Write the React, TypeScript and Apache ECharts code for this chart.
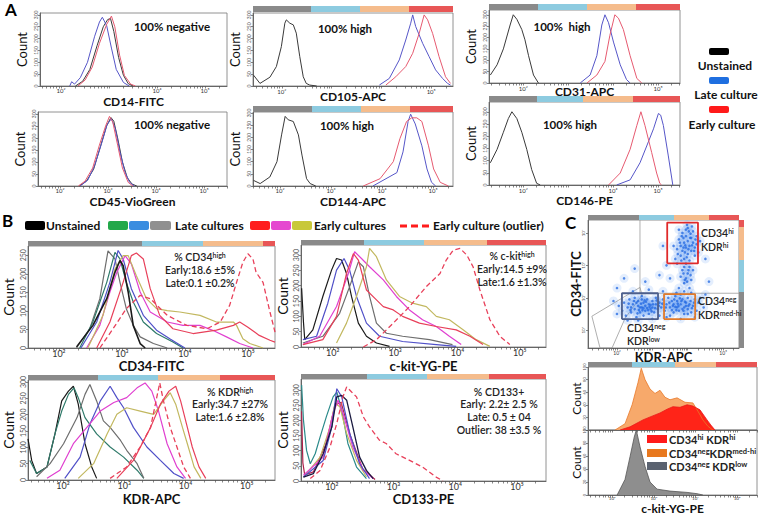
import React, { useEffect, useRef } from 'react';
import * as echarts from 'echarts';

const FONT = 'Lato, "Noto Sans", sans-serif';

// ---------- Panel A data: [log10 fluorescence, count] ----------
const cd14Unstained = [[2.3,0],[2.45,20],[2.6,70],[2.75,170],[2.88,250],[2.97,280],[3.03,285],[3.1,230],[3.2,120],[3.3,45],[3.4,10],[3.5,0]];
const cd14Late = [[2.18,0],[2.22,18],[2.28,8],[2.4,35],[2.55,100],[2.7,210],[2.8,270],[2.86,290],[2.95,255],[3.05,160],[3.15,70],[3.3,15],[3.42,0]];
const cd14Early = [[2.35,0],[2.5,25],[2.65,80],[2.8,180],[2.95,260],[3.05,295],[3.12,250],[3.22,130],[3.32,45],[3.45,8],[3.55,0]];

const cd105Unstained = [[1.43,46],[1.56,11],[1.76,37],[1.89,82],[1.99,166],[2.06,265],[2.09,279],[2.16,265],[2.23,258],[2.29,223],[2.36,124],[2.43,39],[2.49,11],[2.56,4],[2.7,0]];
const cd105Late = [[3.96,4],[4.16,32],[4.36,110],[4.49,194],[4.59,265],[4.63,300],[4.69,251],[4.83,180],[4.96,124],[5.09,68],[5.23,32],[5.33,11],[5.39,4]];
const cd105Early = [[4.09,4],[4.29,39],[4.49,82],[4.63,138],[4.76,222],[4.86,300],[4.93,279],[5.03,222],[5.16,124],[5.29,39],[5.39,11]];

const cd31Unstained = [[1.27,35],[1.42,80],[1.56,150],[1.71,255],[1.78,300],[1.86,280],[1.97,235],[2.04,190],[2.12,120],[2.23,35],[2.34,0]];
const cd31Late = [[3.27,0],[3.49,35],[3.64,120],[3.75,255],[3.82,300],[3.9,265],[4.01,180],[4.16,80],[4.3,15],[4.38,0]];
const cd31Early = [[3.42,0],[3.64,35],[3.82,95],[3.93,210],[4.04,300],[4.12,285],[4.23,235],[4.38,120],[4.53,20],[4.64,0]];

const cd45Unstained = [[2.4,0],[2.55,20],[2.7,70],[2.85,170],[2.97,250],[3.06,285],[3.12,270],[3.2,200],[3.3,100],[3.4,35],[3.5,8],[3.6,0]];
const cd45Late = [[2.42,0],[2.58,25],[2.72,85],[2.87,180],[2.98,255],[3.07,280],[3.15,240],[3.25,140],[3.35,60],[3.45,15],[3.55,0]];
const cd45Early = [[2.38,0],[2.52,20],[2.68,75],[2.82,170],[2.95,250],[3.03,290],[3.1,265],[3.2,170],[3.3,75],[3.42,15],[3.52,0]];

const cd144Unstained = [[1.48,23],[1.61,10],[1.8,37],[1.94,100],[2.03,210],[2.1,286],[2.16,272],[2.26,265],[2.36,210],[2.43,127],[2.52,30],[2.59,10],[2.7,0]];
const cd144Late = [[3.82,0],[4.29,55],[4.41,140],[4.51,265],[4.56,295],[4.65,255],[4.78,165],[4.88,70],[4.97,15],[5.05,0]];
const cd144Early = [[3.63,0],[3.96,30],[4.22,100],[4.35,195],[4.48,265],[4.58,280],[4.68,280],[4.78,265],[4.91,165],[5.01,70],[5.14,15],[5.3,0]];

const cd146Unstained = [[1.27,91],[1.42,146],[1.56,216],[1.67,272],[1.75,300],[1.86,272],[1.97,216],[2.08,146],[2.19,63],[2.3,7],[2.38,0]];
const cd146Early = [[3.9,0],[4.16,49],[4.38,146],[4.53,244],[4.62,300],[4.71,244],[4.86,133],[4.97,49],[5.04,7],[5.08,0]];
const cd146Late = [[4.08,0],[4.38,21],[4.6,91],[4.75,160],[4.9,230],[5.01,293],[5.06,286],[5.12,244],[5.23,119],[5.33,0]];

// ---------- Panel B data ----------
const b1Unstained = [[2.28,3],[2.54,61],[2.76,133],[2.89,204],[2.97,236],[3.02,222],[3.1,151],[3.18,61],[3.29,12],[3.37,0]];
const b1LateGray = [[2.28,0],[2.49,52],[2.65,133],[2.78,262],[2.89,240],[2.97,177],[3.07,106],[3.18,61],[3.29,30],[3.5,12],[3.72,0]];
const b1LateGreen = [[2.33,0],[2.54,70],[2.76,177],[2.89,258],[2.97,240],[3.07,177],[3.18,124],[3.34,70],[3.55,39],[3.81,16],[3.97,0]];
const b1LateBlue = [[2.35,0],[2.6,70],[2.81,177],[2.94,263],[3.02,240],[3.15,160],[3.34,88],[3.55,48],[3.76,25],[4.0,0]];
const b1EarlyMagenta = [[2.44,0],[2.65,61],[2.81,151],[2.92,204],[3.05,249],[3.15,227],[3.29,151],[3.45,97],[3.72,70],[3.97,61],[4.24,61],[4.45,47],[4.66,30],[4.87,12],[5.08,0]];
const b1EarlyRed = [[2.6,0],[2.81,70],[3.02,177],[3.15,249],[3.23,256],[3.34,240],[3.45,160],[3.6,88],[3.81,52],[4.13,39],[4.5,48],[4.77,61],[4.87,70],[5.0,56],[5.18,34],[5.35,21],[5.43,16]];
const b1EarlyOlive = [[2.46,0],[2.7,88],[2.89,213],[3.02,249],[3.1,249],[3.23,195],[3.39,133],[3.55,106],[3.72,101],[3.92,97],[4.24,88],[4.5,70],[4.77,70],[4.82,61],[4.92,25],[5.03,12],[5.24,0]];
const b1Outlier = [[2.65,0],[2.86,52],[3.07,106],[3.29,142],[3.45,133],[3.72,88],[4.03,61],[4.35,52],[4.56,70],[4.71,115],[4.82,177],[4.92,231],[5.0,254],[5.08,240],[5.13,204],[5.24,177],[5.35,97],[5.43,43]];

const b2Unstained = [[1.5,192],[1.53,80],[1.55,24],[1.68,56],[1.84,165],[1.98,251],[2.06,289],[2.14,284],[2.22,240],[2.3,165],[2.41,78],[2.54,35],[2.7,13],[2.91,2]];
const b2LateBlue = [[1.52,24],[1.74,35],[1.92,143],[2.06,251],[2.18,289],[2.27,251],[2.38,165],[2.54,78],[2.75,35],[3.12,18],[3.66,8],[3.98,2]];
const b2LateGray = [[1.52,13],[1.84,35],[2.11,110],[2.27,197],[2.41,278],[2.49,262],[2.59,165],[2.7,78],[2.86,45],[3.12,35],[3.55,24],[3.92,8]];
const b2EarlyMagenta = [[1.52,8],[1.79,35],[2.06,132],[2.25,240],[2.35,311],[2.46,289],[2.59,262],[2.81,219],[3.02,165],[3.23,121],[3.44,89],[3.66,67],[3.87,35],[4.06,8]];
const b2EarlyRed = [[1.52,8],[1.84,24],[2.06,100],[2.22,240],[2.33,305],[2.41,284],[2.54,186],[2.7,154],[2.81,132],[2.97,121],[3.12,100],[3.39,78],[3.66,67],[3.98,56],[4.2,35],[4.41,8]];
const b2EarlyOlive = [[2.06,13],[2.22,78],[2.38,165],[2.54,262],[2.59,322],[2.7,295],[2.86,219],[3.07,165],[3.28,143],[3.5,132],[3.66,100],[3.87,89],[4.09,56],[4.3,24],[4.52,2]];
const b2Outlier = [[2.49,0],[2.7,24],[2.97,78],[3.23,132],[3.5,197],[3.72,240],[3.82,284],[3.93,316],[4.04,322],[4.15,300],[4.25,262],[4.36,186],[4.52,89],[4.68,35],[4.84,8]];

const b3Unstained = [[1.43,126],[1.49,60],[1.57,20],[1.74,40],[1.87,141],[1.98,242],[2.09,272],[2.17,287],[2.25,232],[2.36,111],[2.47,40],[2.55,5]];
const b3LateGreen = [[1.46,60],[1.57,20],[1.74,40],[1.87,141],[1.98,211],[2.09,262],[2.18,282],[2.25,252],[2.36,191],[2.55,141],[2.77,101],[2.99,70],[3.21,30],[3.32,5]];
const b3LateGray = [[1.57,10],[1.79,50],[2.01,111],[2.23,191],[2.36,262],[2.44,292],[2.55,242],[2.66,181],[2.77,161],[2.94,121],[3.04,91],[3.21,50],[3.32,5]];
const b3LateBlue = [[2.03,5],[2.28,70],[2.44,171],[2.61,242],[2.77,287],[2.88,252],[2.99,221],[3.15,161],[3.37,101],[3.59,60],[3.81,20],[3.97,5]];
const b3EarlyMagenta = [[1.74,5],[1.95,30],[2.17,111],[2.39,161],[2.61,211],[2.83,237],[3.04,252],[3.21,282],[3.34,297],[3.45,272],[3.56,211],[3.7,111],[3.86,40],[4.0,5]];
const b3EarlyOlive = [[2.25,5],[2.5,50],[2.72,141],[2.88,201],[3.04,221],[3.26,211],[3.48,201],[3.64,242],[3.75,267],[3.84,232],[3.95,161],[4.03,111],[4.14,40],[4.25,5]];
const b3EarlyRed = [[2.88,5],[3.15,60],[3.43,161],[3.59,232],[3.73,272],[3.84,287],[3.92,242],[4.03,161],[4.11,101],[4.22,40],[4.33,5]];
const b3Outlier = [[2.77,5],[3.04,40],[3.26,101],[3.43,161],[3.53,252],[3.58,297],[3.64,242],[3.75,161],[3.86,101],[3.97,40],[4.08,5]];

const b4LateTeal = [[1.51,317],[1.54,201],[1.59,101],[1.65,57],[1.73,90],[1.81,146],[1.91,212],[2.02,278],[2.08,294],[2.16,234],[2.26,124],[2.4,46],[2.56,8]];
const b4Unstained = [[1.54,13],[1.7,24],[1.86,90],[2.0,179],[2.08,278],[2.16,283],[2.24,267],[2.34,179],[2.45,79],[2.56,35],[2.67,8]];
const b4LateBlue = [[1.54,13],[1.86,68],[2.0,179],[2.08,305],[2.16,278],[2.29,157],[2.45,57],[2.61,8]];
const b4EarlyOlive = [[1.54,13],[1.81,79],[1.97,179],[2.05,256],[2.13,245],[2.24,157],[2.4,68],[2.56,13]];
const b4EarlyMagenta = [[1.54,19],[1.86,79],[2.02,223],[2.1,267],[2.18,223],[2.34,112],[2.51,35],[2.67,8]];
const b4EarlyRed = [[1.51,230],[1.53,60],[1.56,20],[1.7,30],[1.9,120],[2.05,250],[2.15,260],[2.3,150],[2.5,40],[2.7,5]];
const b4Outlier = [[1.65,8],[1.81,35],[1.97,112],[2.08,190],[2.18,278],[2.24,311],[2.32,294],[2.4,278],[2.51,212],[2.61,179],[2.77,135],[2.88,124],[3.04,90],[3.26,68],[3.47,46],[3.69,13],[3.8,0]];

// ---------- Panel C data ----------
const scatterLowBand = [[2.15,1.6],[2.2,1.85],[2.25,1.45],[2.3,1.7],[2.35,1.95],[2.4,1.55],[2.45,1.8],[2.5,1.65],[2.5,2.0],[2.55,1.4],[2.6,1.75],[2.6,1.9],[2.65,1.55],[2.7,1.7],[2.7,2.05],[2.75,1.85],[2.8,1.6],[2.8,1.75],[2.85,1.95],[2.9,1.5],[2.9,1.8],[2.95,1.65],[3.0,1.9],[3.0,1.7],[3.05,1.55],[3.1,1.8],[3.1,2.0],[3.15,1.65],[3.2,1.85],[3.25,1.7],[3.3,1.95],[3.35,1.6],[3.4,1.8],[3.45,2.0],[3.5,1.7],[3.55,1.9],[3.6,1.55],[3.6,1.8],[3.65,2.05],[3.7,1.7],[3.7,1.9],[3.75,1.6],[3.8,1.8],[3.8,2.1],[3.85,1.95],[3.9,1.7],[3.9,1.5],[3.95,1.85],[4.0,2.0],[4.0,1.65],[4.05,1.8],[4.1,1.55],[4.1,2.15],[4.15,1.75],[4.2,1.95],[4.25,1.6],[4.3,1.85],[2.3,1.3],[2.6,1.3],[3.0,1.35],[3.4,1.4],[3.8,1.35],[4.2,1.4],[2.45,2.2],[2.9,2.25],[3.3,2.2],[3.75,2.3],[4.05,2.3],[4.35,2.0],[4.45,1.7],[2.05,1.75],[2.0,1.5],[3.2,1.45],[3.5,1.45],[2.75,1.45],[2.65,1.7],[2.72,1.62],[2.85,1.68],[2.95,1.78],[2.78,1.92],[3.65,1.72],[3.72,1.82],[3.85,1.65],[3.92,1.88],[3.78,1.98],[4.02,1.75],
  [2.4,1.7],[2.55,1.85],[2.62,1.62],[2.68,1.82],[2.75,1.68],[2.82,1.88],[2.88,1.62],[2.92,1.72],[3.02,1.8],[3.08,1.68],[2.58,1.52],[2.48,1.9],[2.38,1.62],[2.33,1.82],[2.7,1.95],[2.98,1.58],[3.12,1.92],[3.18,1.75],[3.28,1.82],[3.38,1.7],[3.48,1.85],[3.55,1.62],[3.62,1.95],[3.68,1.62],[3.74,1.75],[3.82,1.9],[3.88,1.6],[3.95,1.75],[4.08,1.9],[4.12,1.68],[4.18,1.85],[3.68,2.15],[3.9,2.2],[4.0,1.5],[3.58,1.75]];
const scatterStream = [[3.9,2.45],[3.95,2.6],[4.0,2.75],[3.85,2.85],[4.05,2.95],[3.95,3.05],[4.1,2.55],[3.8,2.65],[4.15,2.85],[3.9,2.95],[3.98,2.5],[3.88,2.75],[4.02,2.85],[4.08,2.7],[3.92,2.55]];
const scatterUpper = [[3.65,3.2],[3.7,3.5],[3.75,3.8],[3.8,3.3],[3.8,3.6],[3.85,4.0],[3.85,3.45],[3.9,3.7],[3.9,3.2],[3.95,3.55],[3.95,3.9],[4.0,3.35],[4.0,3.75],[4.0,4.15],[4.05,3.6],[4.05,3.15],[4.1,3.85],[4.1,3.45],[4.15,3.7],[4.15,4.05],[4.2,3.3],[4.2,3.55],[4.25,3.9],[4.25,3.65],[4.3,3.4],[3.7,3.05],[3.6,3.6],[3.75,4.1],[4.35,3.75],[3.98,4.25],[3.88,3.85],[4.08,3.98],[3.92,3.4],
  [3.78,3.7],[3.83,3.9],[3.93,3.62],[3.97,3.25],[4.02,3.5],[4.07,3.85],[4.12,3.62],[4.18,3.45],[3.88,3.55],[4.03,4.05],[3.82,3.15],[4.22,3.8],[3.72,3.35],[4.12,4.2],[3.95,4.1]];
const scatterSparse = [[2.2,2.6],[2.5,2.9],[3.2,2.7],[3.4,3.0],[4.5,3.2],[4.6,2.5],[3.3,3.6],[2.8,2.5],[4.5,2.1],[1.9,1.9],[2.0,2.3],[3.5,2.6]];

// gates: [x0, x1, y0, y1]
const gateHi = [3.42, 4.29, 3.06, 4.32];
const gateMed = [3.33, 4.21, 1.34, 2.11];
const gateLow = [2.14, 3.16, 1.34, 2.14];
const gateQuadV = [[2.65, 2.14], [2.65, 4.4]];
const gateQuadH = [[2.65, 2.14], [5.45, 2.14]];
const gatePoly = [[1.29,1.43],[2.65,2.32],[2.71,2.08],[2.23,1.37],[1.86,0.45],[1.52,0.45],[1.29,1.43]];

// histograms of c-kit per subpopulation (% of max)
const ckitHiHi = [[2.19,0],[2.43,5],[2.74,16],[2.96,22],[3.15,27],[3.32,33],[3.46,37],[3.63,36],[3.8,40],[3.94,38],[4.11,32],[4.28,16],[4.37,8],[4.47,0]];
const ckitNegMed = [[2.07,0],[2.31,10],[2.48,40],[2.62,75],[2.7,98],[2.79,80],[2.91,65],[3.03,58],[3.15,63],[3.27,52],[3.39,48],[3.56,51],[3.75,44],[3.94,43],[4.06,30],[4.18,16],[4.3,6],[4.42,0]];
const ckitNegLow = [[2.12,0],[2.31,24],[2.43,59],[2.53,89],[2.58,100],[2.67,74],[2.79,44],[2.91,20],[3.08,9],[3.39,6],[3.8,4],[4.04,2],[4.18,0]];

const decadeTicks = [2, 3, 4, 5];
const countTicks = [0, 50, 100, 150, 200, 250, 300];

// ---------- styles ----------
const C_UNST = '#3a3a3a', C_LATE = '#5656c8', C_EARLY = '#e65a70';
const B_BLACK = '#1a1a1a', B_GREEN = '#2f7a6a', B_BLUE = '#5050c8', B_GRAY = '#6e6e6e';
const B_RED = '#e8405a', B_MAG = '#e040d0', B_OLIVE = '#c2b860';
const BAR = ['#8a8a8a', '#8dcbe0', '#f5bc8c', '#e85656'];

const GRIDS = [
  { left: 40, top: 13, width: 187, height: 73 },
  { left: 253, top: 13, width: 200, height: 73 },
  { left: 489, top: 10, width: 191, height: 73 },
  { left: 38, top: 112, width: 189, height: 74 },
  { left: 253, top: 112, width: 200, height: 74 },
  { left: 489, top: 102, width: 191, height: 83 },
  { left: 28, top: 246, width: 247, height: 102 },
  { left: 301, top: 245, width: 245, height: 102 },
  { left: 28, top: 380, width: 247, height: 100 },
  { left: 301, top: 379, width: 245, height: 102 },
  { left: 588, top: 220, width: 151, height: 128 },
  { left: 588, top: 367, width: 169, height: 63 },
  { left: 588, top: 430, width: 169, height: 66 },
];

const SUP: Record<string, string> = { '0': '⁰', '1': '¹', '2': '²', '3': '³', '4': '⁴', '5': '⁵' };
const decadeLabel = (v: number) => '10' + SUP[String(Math.round(v))];

function minorTicks(min: number, max: number) {
  const out: number[] = [];
  for (let n = 0; n <= 5; n++) for (let k = 1; k <= 9; k++) {
    const v = +(n + Math.log10(k)).toFixed(4);
    if (v >= min && v <= max) out.push(v);
  }
  return out;
}

function xAxis(g: number, min: number, max: number, name: string, o: any) {
  const labs = (o.labs || decadeTicks).filter((v: number) => v >= min && v <= max);
  return {
    type: 'value', gridIndex: g, min, max, name, nameLocation: 'middle', nameGap: o.gap, nameMoveOverlap: false,
    nameTextStyle: { fontFamily: FONT, fontWeight: 'bold', fontSize: o.nameSize, color: '#111' },
    axisLine: { show: true, onZero: false, lineStyle: { color: '#666', width: 1 } },
    axisTick: { show: true, length: 2.5, customValues: minorTicks(min, max), lineStyle: { color: '#555', width: 0.7 } },
    axisLabel: { show: o.labels !== false, customValues: labs, formatter: decadeLabel, fontSize: o.labelSize, color: '#333', margin: o.margin ?? 2, fontFamily: FONT },
    splitLine: { show: false },
  };
}

function yAxis(g: number, max: number, o: any) {
  const vals = o.ticks || countTicks.filter(v => v <= max);
  return {
    type: 'value', gridIndex: g, min: o.min ?? 0, max, name: o.name ?? 'Count', nameLocation: 'middle', nameGap: o.gap, nameRotate: 90, nameMoveOverlap: false,
    nameTextStyle: { fontFamily: FONT, fontSize: o.nameSize, fontWeight: o.nameWeight ?? 'normal', color: '#111' },
    axisLine: { show: true, onZero: false, lineStyle: { color: '#666', width: 1 } },
    axisTick: { show: true, length: 2, customValues: vals, lineStyle: { color: '#555', width: 0.7 } },
    axisLabel: { customValues: vals, rotate: 90, fontSize: o.labelSize, color: '#555', margin: 2, fontFamily: FONT, formatter: o.fmt },
    splitLine: { show: false },
  };
}

function line(g: number, data: number[][], color: string, width = 1, dashed = false, extra: any = {}) {
  return {
    type: 'line', xAxisIndex: g, yAxisIndex: g, data, showSymbol: false, symbol: 'none', silent: true,
    lineStyle: { color, width, type: dashed ? [5, 3] : 'solid' }, z: 3, ...extra,
  };
}

function rect(x: number, y: number, w: number, h: number, fill: string, extra: any = {}) {
  return { type: 'rect', shape: { x, y, width: w, height: h, ...(extra.r ? { r: extra.r } : {}) }, style: { fill }, z: 20 };
}

function hbar(edges: number[], y: number, h: number) {
  return edges.slice(0, -1).map((e, i) => rect(e, y, edges[i + 1] - e, h, BAR[i]));
}

function text(x: number, y: number, t: string, o: any = {}) {
  return {
    type: 'text', x, y, z: 30,
    style: {
      text: t, fontFamily: FONT, fontSize: o.size ?? 12, fontWeight: o.weight ?? 'bold', fill: o.color ?? '#111',
      align: o.align ?? 'center', verticalAlign: 'middle', rich: o.rich,
    },
  };
}

const supRich = (size: number, sup: number, weight = 'bold') => ({
  a: { fontSize: size, fontWeight: weight, fontFamily: FONT, fill: '#222' },
  s: { fontSize: sup, fontWeight: weight, fontFamily: FONT, fill: '#222', verticalAlign: 'top' },
});

function buildOption() {
  const gx = [
    xAxis(0, 1.56, 5.46, 'CD14-FITC', { gap: 9, nameSize: 12, labelSize: 6, labs: [2, 4, 5], margin: 1 }),
    xAxis(1, 1.42, 5.44, 'CD105-APC', { gap: 4, nameSize: 12, labelSize: 6, labs: [2, 5] }),
    xAxis(2, 1.24, 5.49, 'CD31-APC', { gap: 2, nameSize: 12, labelSize: 6, labs: [2, 5] }),
    xAxis(3, 1.54, 5.48, 'CD45-VioGreen', { gap: 9, nameSize: 12, labelSize: 6, margin: 1 }),
    xAxis(4, 1.47, 5.39, 'CD144-APC', { gap: 9, nameSize: 12, labelSize: 6, margin: 1 }),
    xAxis(5, 1.24, 5.49, 'CD146-PE', { gap: 9, nameSize: 12, labelSize: 6, labs: [2, 4, 5] }),
    xAxis(6, 1.51, 5.43, 'CD34-FITC', { gap: 11, nameSize: 13, labelSize: 9, margin: 1 }),
    xAxis(7, 1.49, 5.42, 'c-kit-YG-PE', { gap: 12, nameSize: 13, labelSize: 9, margin: 1 }),
    xAxis(8, 1.43, 5.46, 'KDR-APC', { gap: 12, nameSize: 13, labelSize: 9, margin: 1 }),
    xAxis(9, 1.5, 5.47, 'CD133-PE', { gap: 11, nameSize: 13, labelSize: 9, margin: 1 }),
    xAxis(10, 1.18, 5.45, 'KDR-APC', { gap: 2, nameSize: 13, labelSize: 5, labs: [2, 5] }),
    xAxis(11, 1.42, 5.48, '', { gap: 3, nameSize: 12, labelSize: 5, labels: false }),
    xAxis(12, 1.42, 5.48, 'c-kit-YG-PE', { gap: 7, nameSize: 12, labelSize: 4.5, margin: 1 }),
  ];
  const pctTicks = [0, 20, 40, 60, 80, 100];
  const gy = [
    yAxis(0, 308, { gap: 12, nameSize: 13, labelSize: 5 }),
    yAxis(1, 308, { gap: 12, nameSize: 13, labelSize: 5 }),
    yAxis(2, 321, { gap: 12, nameSize: 13, labelSize: 5 }),
    yAxis(3, 308, { gap: 12, nameSize: 13, labelSize: 5 }),
    yAxis(4, 304, { gap: 12, nameSize: 13, labelSize: 5 }),
    yAxis(5, 340, { gap: 12, nameSize: 13, labelSize: 5 }),
    yAxis(6, 275, { gap: 13, nameSize: 14, labelSize: 7 }),
    yAxis(7, 333, { gap: 12, nameSize: 14, labelSize: 7 }),
    yAxis(8, 306, { gap: 13, nameSize: 14, labelSize: 7 }),
    yAxis(9, 337, { gap: 12, nameSize: 14, labelSize: 7 }),
    yAxis(10, 4.4, { min: 0.45, name: 'CD34-FITC', nameWeight: 'bold', gap: 6, nameSize: 13, labelSize: 4.5, ticks: [1, 2, 3, 4], fmt: decadeLabel }),
    yAxis(11, 100, { gap: 6, nameSize: 12, labelSize: 4, ticks: pctTicks }),
    yAxis(12, 100, { gap: 6, nameSize: 12, labelSize: 4, ticks: pctTicks }),
  ];

  const scatterAll = [...scatterLowBand, ...scatterStream, ...scatterUpper, ...scatterSparse];

  const series: any[] = [
    line(0, cd14Unstained, C_UNST), line(0, cd14Late, C_LATE), line(0, cd14Early, C_EARLY),
    line(1, cd105Unstained, C_UNST), line(1, cd105Late, C_LATE), line(1, cd105Early, C_EARLY),
    line(2, cd31Unstained, C_UNST), line(2, cd31Late, C_LATE), line(2, cd31Early, C_EARLY),
    line(3, cd45Unstained, C_UNST), line(3, cd45Late, C_LATE), line(3, cd45Early, C_EARLY),
    line(4, cd144Unstained, C_UNST), line(4, cd144Late, C_LATE), line(4, cd144Early, C_EARLY),
    line(5, cd146Unstained, C_UNST), line(5, cd146Late, C_LATE), line(5, cd146Early, C_EARLY),

    line(6, b1LateGray, B_GRAY, 1.2), line(6, b1LateGreen, B_GREEN, 1.2), line(6, b1LateBlue, B_BLUE, 1.2),
    line(6, b1EarlyMagenta, B_MAG, 1.2), line(6, b1EarlyOlive, B_OLIVE, 1.2), line(6, b1EarlyRed, B_RED, 1.2),
    line(6, b1Outlier, B_RED, 1.3, true), line(6, b1Unstained, B_BLACK, 1.6),

    line(7, b2Unstained, B_BLACK, 1.2), line(7, b2LateBlue, B_BLUE, 1.2), line(7, b2LateGray, B_GRAY, 1.2),
    line(7, b2EarlyMagenta, B_MAG, 1.2), line(7, b2EarlyOlive, B_OLIVE, 1.2), line(7, b2EarlyRed, B_RED, 1.2),
    line(7, b2Outlier, B_RED, 1.3, true),

    line(8, b3Unstained, B_BLACK, 1.2), line(8, b3LateGreen, B_GREEN, 1.2), line(8, b3LateGray, B_GRAY, 1.2),
    line(8, b3LateBlue, B_BLUE, 1.2), line(8, b3EarlyMagenta, B_MAG, 1.2), line(8, b3EarlyOlive, B_OLIVE, 1.2),
    line(8, b3EarlyRed, B_RED, 1.2), line(8, b3Outlier, B_RED, 1.3, true),

    line(9, b4EarlyRed, '#b0204a', 1.2), line(9, b4LateTeal, '#2a8a8a', 1.2), line(9, b4EarlyOlive, B_OLIVE, 1.2),
    line(9, b4EarlyMagenta, B_MAG, 1.2), line(9, b4LateBlue, B_BLUE, 1.2), line(9, b4Unstained, '#1a1a40', 1.3),
    line(9, b4Outlier, B_RED, 1.3, true),

    {
      type: 'scatter', xAxisIndex: 10, yAxisIndex: 10, silent: true, z: 2,
      data: scatterAll, symbolSize: 9, itemStyle: { color: '#5a95f0', opacity: 0.16 },
    },
    {
      type: 'scatter', xAxisIndex: 10, yAxisIndex: 10, silent: true, z: 2,
      data: scatterAll, symbolSize: 2.6, itemStyle: { color: '#1f66e0', opacity: 0.75 },
    },
    line(10, gateQuadV, '#9a9a9a', 0.8, false, { z: 1 }),
    line(10, gateQuadH, '#9a9a9a', 0.8, false, { z: 1 }),
    line(10, gatePoly, '#9a9a9a', 0.8, false, { z: 1 }),
    line(10, [[gateLow[0], gateLow[2]], [gateLow[1], gateLow[2]], [gateLow[1], gateLow[3]], [gateLow[0], gateLow[3]], [gateLow[0], gateLow[2]]], '#4d5f8c', 1.8, false, { z: 5 }),
    line(10, [[gateMed[0], gateMed[2]], [gateMed[1], gateMed[2]], [gateMed[1], gateMed[3]], [gateMed[0], gateMed[3]], [gateMed[0], gateMed[2]]], '#e07a2a', 1.8, false, { z: 5 }),
    line(10, [[gateHi[0], gateHi[2]], [gateHi[1], gateHi[2]], [gateHi[1], gateHi[3]], [gateHi[0], gateHi[3]], [gateHi[0], gateHi[2]]], '#e02a2a', 1.8, false, { z: 5 }),

    line(11, ckitNegMed, '#e8782a', 0.8, false, { areaStyle: { color: '#f7a463', opacity: 0.95 } }),
    line(11, ckitHiHi, '#e81a1a', 0.8, false, { areaStyle: { color: '#ff2418', opacity: 1 } }),
    line(12, ckitNegLow, '#555', 0.8, false, { areaStyle: { color: '#8e8e8e', opacity: 1 } }),
  ];

  const r11 = supRich(10.5, 7, '600');
  const r12 = supRich(11, 7.5, 'bold');
  const rB = supRich(10.5, 7, '600');
  const small = { size: 10.5, weight: '600', color: '#222' };

  const graphic: any[] = [
    text(5, 9, 'A', { size: 17, align: 'left', color: '#000' }),
    text(2, 220, 'B', { size: 17, align: 'left', color: '#000' }),
    text(565, 222, 'C', { size: 17, align: 'left', color: '#000' }),

    text(172, 26, '100% negative', { size: 11.5 }),
    text(172, 124, '100% negative', { size: 11.5 }),
    text(345, 28, '100% high', { size: 11.5 }),
    text(347, 125, '100% high', { size: 11.5 }),
    text(562, 26, '100%  high', { size: 11.5 }),
    text(570, 124, '100% high', { size: 11.5 }),

    ...hbar([253, 311, 360, 409, 453], 6, 6),
    ...hbar([489, 538, 587, 636, 680], 4, 6),
    ...hbar([253, 312, 361, 410, 453], 106, 6),
    ...hbar([489, 537, 583, 633, 680], 96, 6),

    rect(709, 48, 20, 7, '#000', { r: 2 }),
    text(725, 65, 'Unstained', { size: 12 }),
    rect(709, 77, 20, 7, '#1f6fe0', { r: 2 }),
    text(726, 94, 'Late culture', { size: 12 }),
    rect(709, 106, 20, 7, '#ff1a1a', { r: 2 }),
    text(722, 124, 'Early culture', { size: 12 }),

    rect(25, 221, 20, 9, '#000', { r: 2 }),
    text(46, 225.5, 'Unstained', { size: 12, align: 'left' }),
    rect(108, 221, 20, 9, '#22a84a', { r: 2 }),
    rect(129, 221, 20, 9, '#3a8de0', { r: 2 }),
    rect(150, 221, 21, 9, '#909090', { r: 2 }),
    text(175, 225.5, 'Late cultures', { size: 12, align: 'left' }),
    rect(250, 221, 20, 9, '#ff1c1c', { r: 2 }),
    rect(271, 221, 20, 9, '#e548d0', { r: 2 }),
    rect(292, 221, 20, 9, '#c8c83a', { r: 2 }),
    text(314, 225.5, 'Early cultures', { size: 12, align: 'left' }),
    { type: 'line', z: 20, shape: { x1: 400, y1: 226, x2: 430, y2: 226 }, style: { stroke: '#ff1c1c', lineWidth: 3, lineDash: [7, 4] } },
    text(433, 225.5, 'Early culture (outlier)', { size: 12, align: 'left' }),

    ...hbar([28, 142, 203, 263, 275], 241, 5),
    ...hbar([301, 364, 424, 487, 546], 240, 5),
    ...hbar([28, 98, 158, 220, 275], 375, 5),
    ...hbar([301, 367, 427, 489, 546], 374, 5),

    text(200, 257, '{a|% CD34}{s|high}', { rich: rB }),
    text(200, 270, 'Early:18.6 ±5%', small),
    text(200, 283, 'Late:0.1 ±0.2%', small),
    text(512, 256, '{a|% c-kit}{s|high}', { rich: rB }),
    text(512, 269, 'Early:14.5 ±9%', small),
    text(512, 282, 'Late:1.6 ±1.3%', small),
    text(230, 392, '{a|% KDR}{s|high}', { rich: rB }),
    text(230, 404, 'Early:34.7 ±27%', small),
    text(230, 417, 'Late:1.6 ±2.8%', small),
    text(499, 392, '% CD133+', small),
    text(499, 404, 'Early: 2.2± 2.5 %', small),
    text(499, 417, 'Late: 0.5 ± 04', small),
    text(499, 430, 'Outlier: 38 ±3.5 %', small),

    ...hbar([588, 639, 674, 709, 739], 215, 5),
    rect(739, 220, 5, 7, BAR[3]),
    rect(739, 227, 5, 33, BAR[2]),
    rect(739, 260, 5, 32, BAR[1]),
    rect(739, 292, 5, 56, BAR[0]),
    text(701, 233, '{a|CD34}{s|hi}', { align: 'left', rich: r11 }),
    text(701, 247, '{a|KDR}{s|hi}', { align: 'left', rich: r11 }),
    text(698, 301, '{a|CD34}{s|neg}', { align: 'left', rich: r11 }),
    text(698, 315, '{a|KDR}{s|med-hi}', { align: 'left', rich: r11 }),
    text(627, 328, '{a|CD34}{s|neg}', { align: 'left', rich: r11 }),
    text(627, 341, '{a|KDR}{s|low}', { align: 'left', rich: r11 }),

    ...hbar([588, 632, 675, 716, 757], 362, 5),
    rect(647, 435, 20, 8, '#ff1a1a'),
    text(669, 439, '{a|CD34}{s|hi}{a| KDR}{s|hi}', { align: 'left', rich: r12 }),
    rect(647, 449, 20, 8, '#e8781e'),
    text(669, 453, '{a|CD34}{s|neg}{a|KDR}{s|med-hi}', { align: 'left', rich: r12 }),
    rect(647, 462, 20, 8, '#5a6270'),
    text(669, 466, '{a|CD34}{s|neg}{a| KDR}{s|low}', { align: 'left', rich: r12 }),
  ];

  return {
    animation: false,
    backgroundColor: '#fff',
    textStyle: { fontFamily: FONT },
    grid: GRIDS.map(g => ({ ...g, show: true, borderColor: '#777', borderWidth: 0.8, backgroundColor: '#fff', containLabel: false })),
    xAxis: gx,
    yAxis: gy,
    series,
    graphic,
  };
}

export default function App() {
  const ref = useRef<HTMLDivElement>(null);
  useEffect(() => {
    const chart = echarts.init(ref.current!, null, { renderer: 'svg' });
    chart.setOption(buildOption() as any);
    return () => chart.dispose();
  }, []);
  return <div ref={ref} style={{ position: 'absolute', left: 0, top: 0, width: 760, height: 515, background: '#fff' }} />;
}
